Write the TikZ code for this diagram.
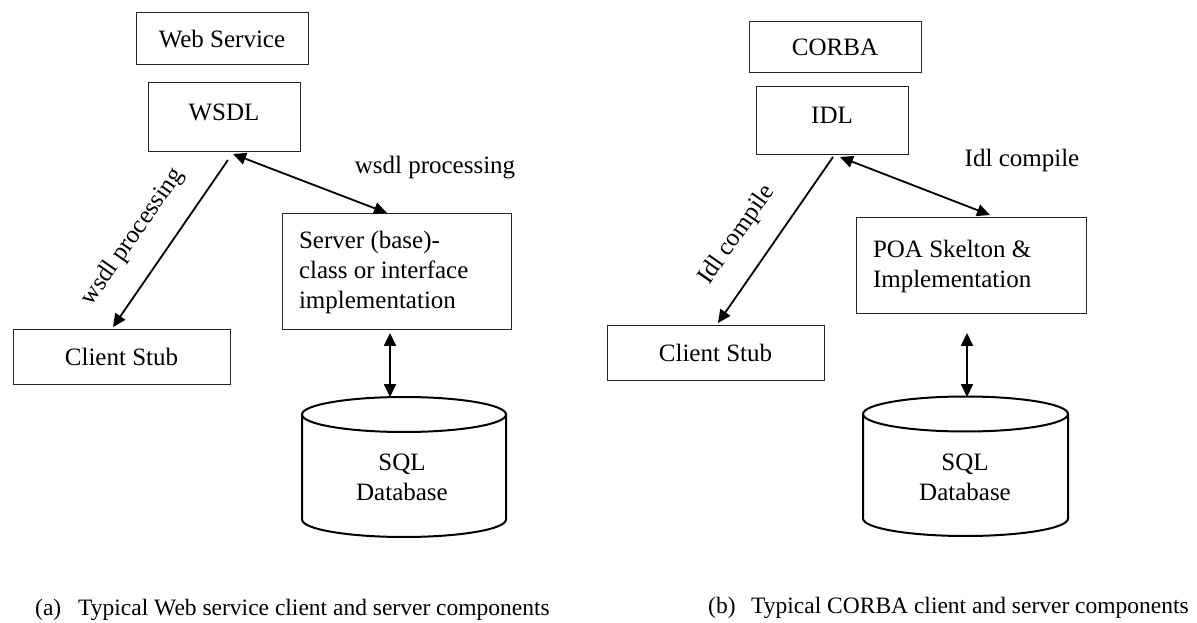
\documentclass[tikz,border=0pt]{standalone}
\usepackage{fontspec}
\setmainfont{Liberation Serif}
\usetikzlibrary{arrows.meta,calc}
\begin{document}
\begin{tikzpicture}[x=1pt,y=1pt,
  every node/.style={font=\fontsize{25}{30}\selectfont, inner sep=0pt},
  box/.style={draw=black!85, line width=1pt, rectangle},
  arr/.style={line width=1.8pt, -{Triangle[length=13pt,width=12pt]}},
  darr/.style={line width=1.8pt, {Triangle[length=13pt,width=12pt]}-{Triangle[length=13pt,width=12pt]}},
  cyl/.style={line width=2pt},
  lbl/.style={font=\fontsize{25}{30}\selectfont},
  captext/.style={font=\fontsize{23.5}{28}\selectfont, anchor=west}]
\useasboundingbox (0,0) rectangle (1197,622);
% ---------- left panel ----------
\node[box, minimum width=172, minimum height=52] (ws) at (222,583) {Web Service};
\node[box, minimum width=152, minimum height=69, text depth=11pt] (wsdl) at (224,504.5) {WSDL};
\node[box, minimum width=217, minimum height=54] (csA) at (121.5,265) {Client Stub};
\node[box, minimum width=229, minimum height=116, align=flush left, text width=195, inner xsep=17pt] (srv) at (396.5,350) {Server (base)-\\class or interface\\implementation};
% cylinder A
\draw[cyl] (302,207.5) -- (302,102.5) arc[start angle=180,end angle=360,x radius=102,y radius=17.5] -- (506,207.5);
\draw[cyl] (404,207.5) ellipse[x radius=102,y radius=17.5];
\node[align=center] (dbA) at (402,145) {SQL\\Database};
\coordinate (a1) at (228,462);
\coordinate (a2) at (113,295);
\coordinate (a3) at (233,468);
\coordinate (a4) at (387,409);
\coordinate (a5) at (390,289);
\coordinate (a6) at (390,225);
\draw[arr] (a1) -- (a2);
\draw[darr] (a3) -- (a4);
\draw[darr] (a5) -- (a6);
\node[lbl] (la1) at (435,454) {wsdl processing};
\node[lbl, rotate=55] (la2) at (133,385) {wsdl processing};
\node[captext] (capA) at (35,12) {\makebox[43pt][l]{(a)}Typical Web service client and server components};
% ---------- right panel ----------
\node[box, minimum width=172, minimum height=51] (corba) at (835,574.5) {CORBA};
\node[box, minimum width=152, minimum height=68, text depth=11pt] (idl) at (832,501) {IDL};
\node[box, minimum width=217, minimum height=54] (csB) at (715.5,269) {Client Stub};
\node[box, minimum width=230, minimum height=96, align=flush left, text width=196, inner xsep=17pt] (poa) at (971,356) {POA Skelton \&\\Implementation};
% cylinder B
\draw[cyl] (863,208) -- (863,103.5) arc[start angle=180,end angle=360,x radius=102.5,y radius=17.5] -- (1068,208);
\draw[cyl] (965.5,208) ellipse[x radius=102.5,y radius=17.5];
\node[align=center] (dbB) at (965,145) {SQL\\Database};
\coordinate (b1) at (833,465);
\coordinate (b2) at (718,299);
\coordinate (b3) at (840,465);
\coordinate (b4) at (990,407);
\coordinate (b5) at (967,289);
\coordinate (b6) at (967,225);
\draw[arr] (b1) -- (b2);
\draw[darr] (b3) -- (b4);
\draw[darr] (b5) -- (b6);
\node[lbl] (lb1) at (1022,462) {Idl compile};
\node[lbl, rotate=55] (lb2) at (737,387) {Idl compile};
\node[captext] (capB) at (708,14) {\makebox[43pt][l]{(b)}Typical CORBA client and server components};
\end{tikzpicture}
\end{document}
